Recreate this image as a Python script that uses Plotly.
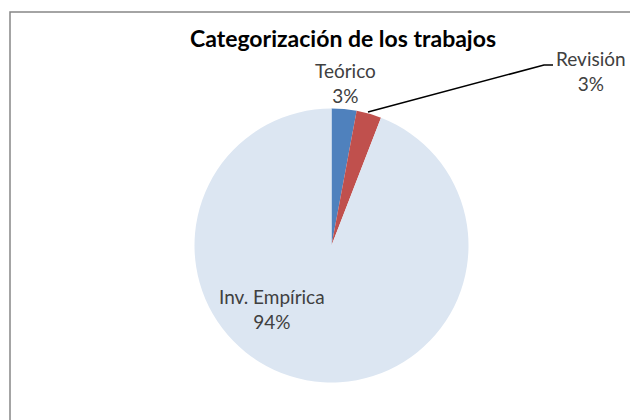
import plotly.graph_objects as go

W, H = 630, 412
OFF = 8  # page body margin offset

labels = ["Teórico", "Revisión", "Inv. Empírica"]
values = [2, 2, 64]
colors = ["#4F81BD", "#C0504D", "#DCE6F2"]
title = "Categorización de los trabajos"

def px(x):
    return (x - OFF) / W

def py(y):
    return 1 - (y - OFF) / H

total = sum(values)
pcts = [f"{round(100 * v / total)}%" for v in values]

cx, cy, r = 331.5, 245.5, 137
fig = go.Figure(go.Pie(
    labels=labels, values=values, sort=False, direction="clockwise", rotation=0,
    marker=dict(colors=colors, line=dict(width=0)),
    textinfo="none", hoverinfo="label+percent", showlegend=False,
    domain=dict(x=[px(cx - r), px(cx + r)], y=[py(cy + r), py(cy - r)]),
))

label_pos = [(345, 83), (591, 71), (272, 309)]
font = dict(family="Lato, Open Sans, sans-serif", size=19, color="#404040")
for (x, y), lab, p in zip(label_pos, labels, pcts):
    fig.add_annotation(x=px(x), y=py(y), xref="paper", yref="paper",
                       text=f"{lab}<br>{p}", showarrow=False, font=font,
                       align="center", xanchor="center", yanchor="middle")

fig.add_shape(type="path", xref="paper", yref="paper",
              path=f"M {px(368)},{py(112)} L {px(544)},{py(65)} L {px(553)},{py(65)}",
              line=dict(color="#000000", width=1.5))

fig.add_shape(type="rect", xref="paper", yref="paper",
              x0=px(10), y0=py(480), x1=px(720), y1=py(12),
              line=dict(color="#868686", width=1.5))

fig.update_layout(
    width=W, height=H, margin=dict(l=0, r=0, t=0, b=0),
    paper_bgcolor="white", plot_bgcolor="white",
    title=dict(text=f"<b>{title}</b>", x=px(343), y=py(39), xanchor="center",
               yanchor="middle", font=dict(family="Lato, Open Sans, sans-serif",
                                           size=23, color="#000000")),
)

fig.write_html("out.html")
